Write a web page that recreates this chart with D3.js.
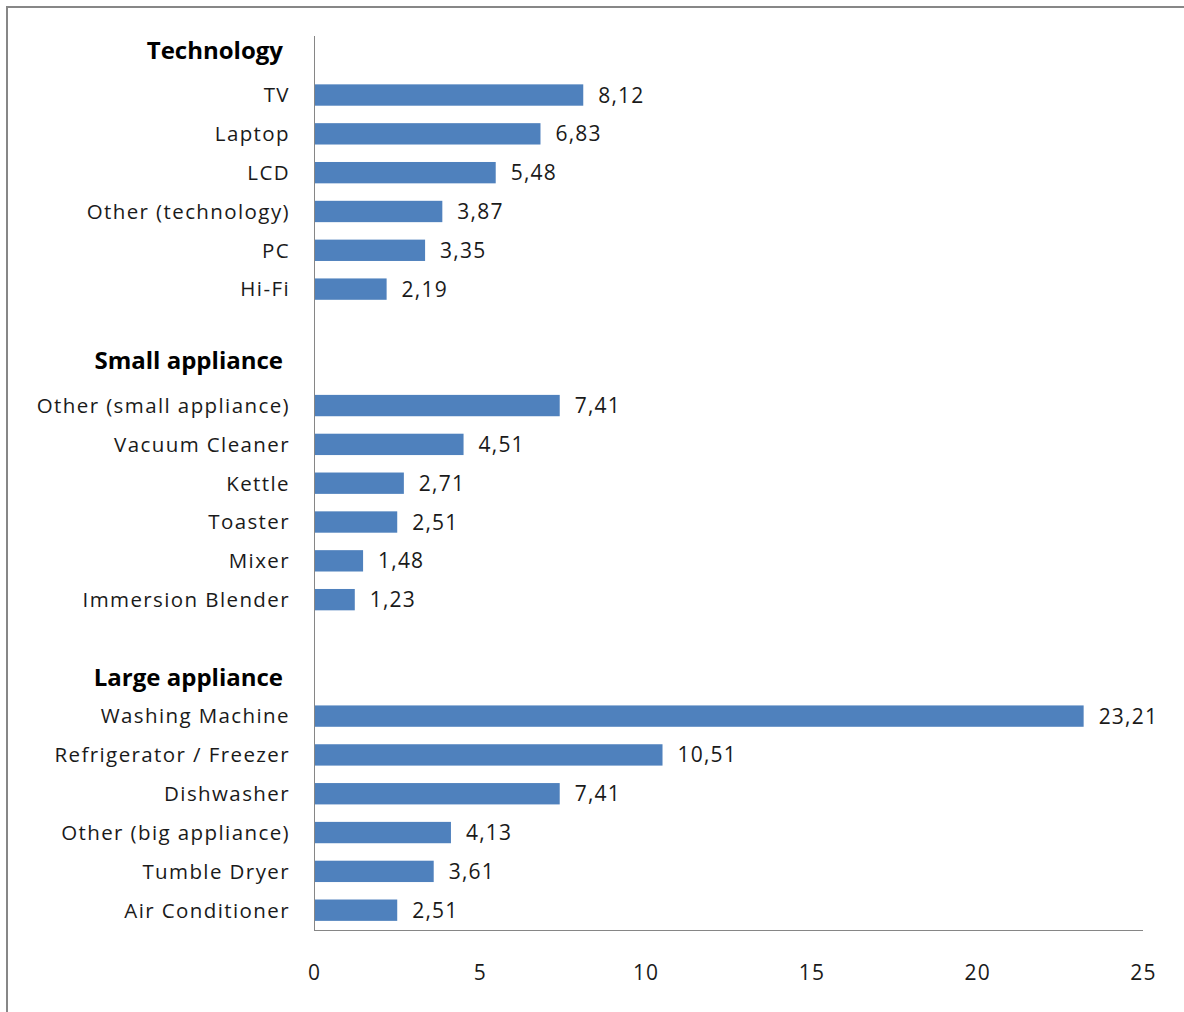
<!DOCTYPE html>
<html>
<head>
<meta charset="utf-8">
<script src="https://cdn.jsdelivr.net/npm/d3@7"></script>
<style>
  html, body { margin: 0; padding: 0; background: #fff; }
  svg { display: block; }
  text { font-family: "Open Sans", Lato, sans-serif; }
</style>
</head>
<body>
<svg id="chart" width="1184" height="1012"></svg>
<script>
// Category rows, top to bottom. Group headers and spacer rows carry no value.
const groups = ["Technology", "Small appliance", "Large appliance"];
const technologyItems = ["TV", "Laptop", "LCD", "Other (technology)", "PC", "Hi-Fi"];
const technologyValues = [8.12, 6.83, 5.48, 3.87, 3.35, 2.19];
const smallItems = ["Other (small appliance)", "Vacuum Cleaner", "Kettle", "Toaster", "Mixer", "Immersion Blender"];
const smallValues = [7.41, 4.51, 2.71, 2.51, 1.48, 1.23];
const largeItems = ["Washing Machine", "Refrigerator / Freezer", "Dishwasher", "Other (big appliance)", "Tumble Dryer", "Air Conditioner"];
const largeValues = [23.21, 10.51, 7.41, 4.13, 3.61, 2.51];
const xTicks = [0, 5, 10, 15, 20, 25];

// Build the row list: header, items, spacer between groups
const itemSets = [technologyItems, smallItems, largeItems];
const valueSets = [technologyValues, smallValues, largeValues];
const headerShift = [-6, -6, 0];
const rows = [];
groups.forEach((g, gi) => {
  if (gi > 0) rows.push({ key: "spacer" + gi, label: "", type: "spacer" });
  rows.push({ key: "h" + gi, label: g, type: "header", shift: headerShift[gi] });
  itemSets[gi].forEach((name, i) => rows.push({ key: name, label: name, type: "item", value: valueSets[gi][i] }));
});

const svg = d3.select("#chart");
const fmt = v => d3.format(".2f")(v).replace(".", ",");

// outer chart frame
svg.append("rect")
  .attr("x", 7).attr("y", 7)
  .attr("width", 1200).attr("height", 1020)
  .attr("fill", "none").attr("stroke", "#878787").attr("stroke-width", 2);

const x = d3.scaleLinear().domain([0, 25]).range([314, 1143]);
const y = d3.scaleBand().domain(rows.map(r => r.key)).range([36.8, 929.6]).paddingInner(0.45).paddingOuter(0.225);

// bars
svg.append("g").selectAll("rect")
  .data(rows.filter(r => r.type === "item"))
  .join("rect")
  .attr("x", x(0))
  .attr("y", d => y(d.key))
  .attr("width", d => x(d.value) - x(0))
  .attr("height", y.bandwidth())
  .attr("fill", "#4F81BD");

// value labels
svg.append("g").selectAll("text")
  .data(rows.filter(r => r.type === "item"))
  .join("text")
  .attr("x", d => x(d.value) + 15)
  .attr("y", d => y(d.key) + y.bandwidth() / 2)
  .attr("dy", "0.36em")
  .attr("font-size", 21)
  .attr("letter-spacing", 1.2)
  .attr("fill", "#1a1a1a")
  .text(d => fmt(d.value));

// category labels
svg.append("g").selectAll("text")
  .data(rows.filter(r => r.type !== "spacer"))
  .join("text")
  .attr("x", d => d.type === "header" ? 283 : 290)
  .attr("y", d => y(d.key) + y.bandwidth() / 2 + (d.type === "header" ? d.shift : 0))
  .attr("dy", "0.36em")
  .attr("text-anchor", "end")
  .attr("font-size", d => d.type === "header" ? 24 : 20.5)
  .attr("letter-spacing", d => d.type === "header" ? 0 : 1.4)
  .attr("font-weight", d => d.type === "header" ? "bold" : "normal")
  .attr("fill", d => d.type === "header" ? "#000" : "#1a1a1a")
  .text(d => d.label);

// axis lines
svg.append("line")
  .attr("x1", x(0) + 0.5).attr("x2", x(0) + 0.5)
  .attr("y1", 36).attr("y2", 930.5)
  .attr("stroke", "#868686").attr("stroke-width", 1);
svg.append("line")
  .attr("x1", x(0)).attr("x2", x(25))
  .attr("y1", 930.5).attr("y2", 930.5)
  .attr("stroke", "#868686").attr("stroke-width", 1);

// x tick labels
const xAxis = d3.axisBottom(x).tickValues(xTicks).tickSize(0).tickPadding(0).tickFormat(d3.format("d"));
const gx = svg.append("g").attr("transform", "translate(0,965)").call(xAxis);
gx.select(".domain").remove();
gx.selectAll("text")
  .attr("font-size", 21)
  .attr("letter-spacing", 1.2)
  .attr("font-family", "'Open Sans', Lato, sans-serif")
  .attr("fill", "#1a1a1a");
</script>
</body>
</html>
